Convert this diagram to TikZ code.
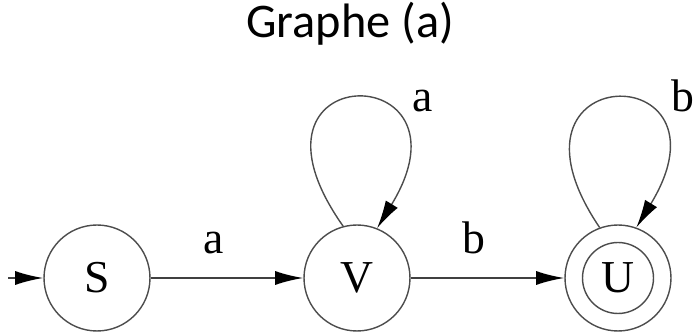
\documentclass[tikz,border=0pt]{standalone}
\usepackage{fontspec}
\setmainfont{Liberation Serif}
\newfontfamily\titlefont{Carlito}
\usetikzlibrary{arrows.meta}

\begin{document}
\begin{tikzpicture}[
    x=0.02cm, y=-0.02cm,
    state/.style={draw=black!70, circle, line width=0.8pt, minimum size=2.12cm, inner sep=0pt, font=\fontsize{26}{28}\selectfont},
    arrow/.style={-{Latex[length=16pt,width=8pt,black]}, line width=1.1pt, draw=black!75},
    loopline/.style={-{Latex[length=16pt,width=8pt,black]}, line width=0.8pt, draw=black!70},
    lbl/.style={font=\fontsize{26}{28}\selectfont}
]
\useasboundingbox (0,0) rectangle (694,334);
\node[font=\titlefont\fontsize{27.5}{30}\selectfont] (title) at (350,24) {Graphe (a)};

\node[state] (S) at (97,278) {S};
\node[state] (V) at (357,278) {V};
\node[state] (U) at (618,278) {U};
\node[draw=black!70, circle, line width=0.8pt, minimum size=1.42cm, inner sep=0pt] (Uin) at (U) {};
\coordinate (start) at (8,278);

\draw[arrow] (start) -- (S);
\draw[arrow] (S) -- (V) node[lbl, pos=0.41, above=0.35cm] {a};
\draw[arrow] (V) -- (U) node[lbl, pos=0.41, above=0.35cm] {b};
\draw[loopline] (V.105) .. controls +(-120,-170) and +(105,-172) .. (V.68);
\draw[loopline] (U.110) .. controls +(-115,-170) and +(105,-172) .. (U.70);
\node[lbl] (la) at (423,101) {a};
\node[lbl] (lb) at (683,96) {b};
\end{tikzpicture}
\end{document}
